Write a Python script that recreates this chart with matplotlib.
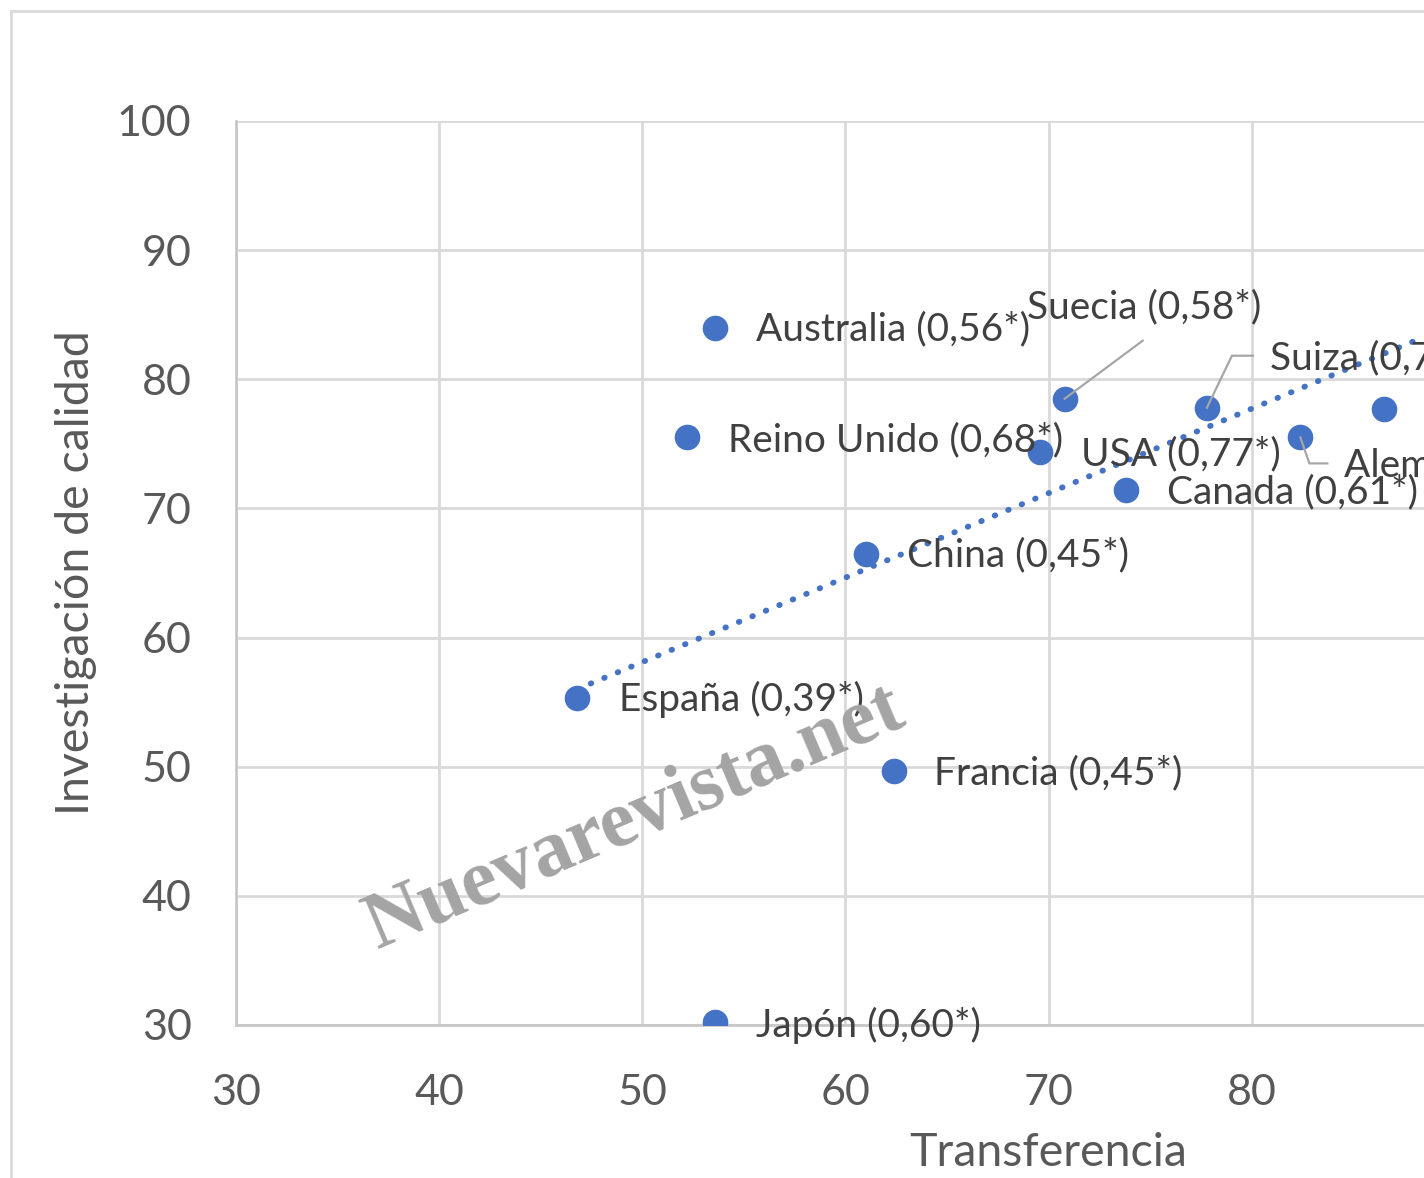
import numpy as np
import matplotlib
matplotlib.use("Agg")
import matplotlib.pyplot as plt
from matplotlib.lines import Line2D

# Transferencia vs Investigación de calidad, by country
COUNTRIES = ["Australia", "Reino Unido", "Suecia", "USA", "Suiza", "Alemania",
             "Canada", "China", "España", "Francia", "Japón", "Holanda"]
CORR = ["0,56*", "0,68*", "0,58*", "0,77*", "0,75*", "0,70*",
        "0,61*", "0,45*", "0,39*", "0,45*", "0,60*", "0,66*"]
TRANSFER = [53.6, 52.2, 70.8, 69.6, 77.8, 82.4, 73.8, 61.0, 46.8, 62.4, 53.6, 86.5]
RESEARCH = [84.0, 75.5, 78.5, 74.4, 77.8, 75.5, 71.4, 66.5, 55.3, 49.7, 30.2, 77.7]

# linear trend
TREND_X = [46.8, 100.0]
TREND_SLOPE = 0.654
TREND_INTERCEPT = 25.4

X_TICKS = [30, 40, 50, 60, 70, 80, 90, 100, 110]
Y_TICKS = [30, 40, 50, 60, 70, 80, 90, 100]

BLUE = "#4472C4"
TEXT = "#404040"
W, H = 1424, 1178
DPI = 100

plt.rcParams["font.family"] = ["Lato", "DejaVu Sans"]

fig = plt.figure(figsize=(W / DPI, H / DPI), dpi=DPI)

# axes runs off the right edge, like the cropped original
left, right, top, bottom = 236, 1861, 121, 1025
ax = fig.add_axes([left / W, 1 - bottom / H, (right - left) / W, (bottom - top) / H])

ax.set_xlim(30, 110)
ax.set_ylim(30, 100)
ax.set_xticks(X_TICKS)
ax.set_yticks(Y_TICKS)
ax.grid(True, color="#d9d9d9", linewidth=2)
ax.set_axisbelow(True)
for side in ["top", "right"]:
    ax.spines[side].set_visible(False)
for side in ["left", "bottom"]:
    ax.spines[side].set_color("#c8c8c8")
    ax.spines[side].set_linewidth(2)
ax.tick_params(length=0, labelsize=31, colors="#595959")
ax.tick_params(axis="y", pad=32)
ax.tick_params(axis="x", pad=35)

ax.set_xlabel("Transferencia", fontsize=33.5, color="#595959", labelpad=15)
ax.set_ylabel("Investigación de calidad", fontsize=33.5, color="#595959", labelpad=14)

# trend line
tx = np.array(TREND_X)
ax.plot(tx, TREND_SLOPE * tx + TREND_INTERCEPT, color=BLUE, linewidth=4.2,
        linestyle=(0, (0.1, 2.4)), dash_capstyle="round", zorder=2)

ax.scatter(TRANSFER, RESEARCH, s=340, color=BLUE, zorder=3, linewidths=0)

# label offsets in pixels (right, down) from each point
label_offsets = {
    "Australia": (41, 2), "Reino Unido": (41, 3), "Suecia": (-38, -91),
    "USA": (41, 3), "Suiza": (63, -49), "Alemania": (44, 28),
    "Canada": (41, 2), "China": (41, 2), "España": (42, 1),
    "Francia": (40, 3), "Japón": (41, 3), "Holanda": (41, 2),
}
for name, c, x, y in zip(COUNTRIES, CORR, TRANSFER, RESEARCH):
    dx, dy = label_offsets[name]
    ax.annotate(f"{name} ({c})", (x, y), xytext=(dx * 72 / DPI, -dy * 72 / DPI),
                textcoords="offset points", ha="left", va="center",
                fontsize=28, color=TEXT, zorder=4)

# leader lines, pixel offsets from the point
leaders = {
    "Suecia": [(0, 0), (78, -58)],
    "Suiza": [(0, 0), (25, -52), (46, -52)],
    "Alemania": [(0, 0), (9, 26), (27, 26)],
}
for name, pts in leaders.items():
    i = COUNTRIES.index(name)
    px, py = ax.transData.transform((TRANSFER[i], RESEARCH[i]))
    xs = [(px + dx) / W for dx, dy in pts]
    ys = [(py - dy) / H for dx, dy in pts]
    fig.add_artist(Line2D(xs, ys, color="#a6a6a6", linewidth=1.6, zorder=2))

# chart area border
fig.add_artist(Line2D([11 / W, 11 / W], [0, 1 - 11 / H], color="#d9d9d9", linewidth=2))
fig.add_artist(Line2D([11 / W, 1], [1 - 11 / H, 1 - 11 / H], color="#d9d9d9", linewidth=2))

# watermark
fig.text(635 / W, 1 - 818 / H, "Nuevarevista.net", fontsize=58, fontweight="bold",
         family="Liberation Serif", color="#a4a4a4", rotation=23,
         ha="center", va="center", zorder=5)

fig.savefig("out.png", dpi=DPI)
